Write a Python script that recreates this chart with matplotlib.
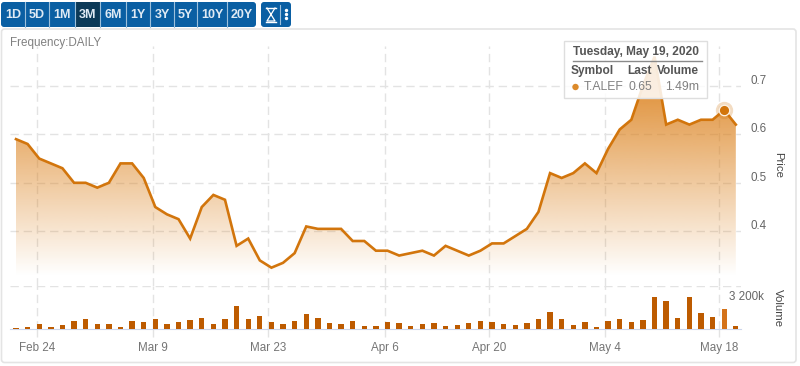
import numpy as np
import matplotlib
matplotlib.use("Agg")
import matplotlib.pyplot as plt
from matplotlib.patches import FancyBboxPatch, Rectangle, Circle
from matplotlib.transforms import ScaledTranslation

plt.rcParams["font.family"] = ["Liberation Sans", "DejaVu Sans"]

# Data
price = [.59, .58, .55, .54, .53, .50, .50, .49, .50, .54, .54, .51, .45, .435, .425, .385,
         .45, .475, .465, .37, .385, .34, .325, .335, .355, .41, .405, .405, .405, .38, .38,
         .36, .36, .35, .355, .36, .35, .37, .36, .35, .36, .375, .375, .39, .405, .44, .52,
         .51, .52, .54, .52, .57, .61, .63, .70, .76, .62, .63, .62, .63, .63, .65, .62]
volume = [100, 150, 390, 195, 315, 635, 755, 390, 390, 195, 635, 510, 755, 390, 560, 685,
          805, 390, 755, 1730, 755, 1000, 560, 390, 635, 1120, 805, 440, 390, 635, 270, 270,
          510, 440, 270, 390, 440, 270, 315, 440, 635, 560, 390, 315, 440, 755, 1295, 755,
          315, 510, 150, 635, 755, 510, 685, 2340, 2100, 805, 2340, 1170, 880, 1490, 270]
date_labels = ["Feb 24", "Mar 9", "Mar 23", "Apr 6", "Apr 20", "May 4", "May 18"]
date_pos = [1.78, 11.83, 21.7, 31.76, 40.77, 50.73, 60.55]
price_ticks = [0.4, 0.5, 0.6, 0.7]
buttons = ["1D", "5D", "1M", "3M", "6M", "1Y", "3Y", "5Y", "10Y", "20Y"]
button_edges = [1, 25, 49, 75, 100, 126, 150, 174, 197, 227, 256]

W, H = 800, 366
LINE = "#d2750c"
GRID = "#e3e3e3"
DASH = (0, (6, 3.5))
x = np.arange(len(price))


def box(left, top, right, bottom):
    return [left / W, 1 - bottom / H, (right - left) / W, (bottom - top) / H]


def px_price(y):
    return 0.6 + (134.3 - y) / 485


fig = plt.figure(figsize=(W / 100, H / 100), dpi=100, facecolor="white")

# Card and button bar
bg = fig.add_axes([0, 0, 1, 1], zorder=0)
bg.set_xlim(0, W)
bg.set_ylim(H, 0)
bg.axis("off")
bg.add_patch(FancyBboxPatch((1.5, 29), 794.5, 333.5, boxstyle="round,pad=0,rounding_size=3",
                            fc="white", ec="#e4e4e4", lw=1.2))
bg.add_patch(FancyBboxPatch((1, 2), 255, 25, boxstyle="round,pad=0,rounding_size=3",
                            fc="#0a5fa3", ec="none"))
for i, name in enumerate(buttons):
    l, r = button_edges[i], button_edges[i + 1]
    if name == "3M":
        bg.add_patch(Rectangle((l, 2), r - l, 25, fc="#0c3a58", ec="none"))
    if i > 0:
        bg.plot([l - 0.5, l - 0.5], [2, 27], color="#9cc0dc", lw=0.8)
    bg.text((l + r) / 2, 15, name, color="#dfeaf4", fontsize=9, fontweight="bold",
            ha="center", va="center")
bg.add_patch(FancyBboxPatch((261, 2), 30, 25, boxstyle="round,pad=0,rounding_size=3",
                             fc="#0a5fa3", ec="none"))
bg.plot([266, 276], [8, 8], color="white", lw=1)
bg.plot([266, 276], [22, 22], color="white", lw=1)
bg.plot([267, 275, 267, 275], [8, 21, 21, 8], color="white", lw=0.9)
bg.plot([279.5, 279.5], [5, 24], color="#9cc0dc", lw=0.8)
bg.scatter([285.5] * 3, [10, 14, 18], s=6, color="white", lw=0)
bg.text(10, 43, "Frequency:DAILY", color="#808080", fontsize=8.4, va="center")

# Price pane
PANE_TOP = 46
ax = fig.add_axes(box(10, PANE_TOP, 741, 285.7), zorder=1)
ax.patch.set_alpha(0)
xlim = ((10 - 16) / 11.61, (741 - 16) / 11.61)
ax.set_xlim(xlim)
ax.set_ylim(px_price(285.7), px_price(PANE_TOP))
for s in ax.spines.values():
    s.set_visible(False)
ax.set_yticks(price_ticks)
ax.set_yticklabels(["%.1f" % t for t in price_ticks])
ax.yaxis.tick_right()
ax.tick_params(axis="y", length=0, pad=6.5, labelsize=8.4, labelcolor="#666666")
for lab in ax.get_yticklabels():
    lab.set_transform(lab.get_transform() + ScaledTranslation(0, 6.4 / 100, fig.dpi_scale_trans))
ax.set_xticks(date_pos)
ax.tick_params(axis="x", length=0, labelbottom=False)
ax.grid(True, color=GRID, lw=1, ls=DASH)
ax.set_axisbelow(True)

# Area with a vertical gradient, clipped to the area under the line
rgba = np.ones((256, 1, 4))
rgba[:, :, 0] = 220 / 255
rgba[:, :, 1] = 130 / 255
rgba[:, :, 2] = 30 / 255
rgba[:, :, 3] = np.linspace(1, 0, 256).reshape(-1, 1)
top_p, bot_p = px_price(57), px_price(276)
area = ax.fill_between(x, price, bot_p, color="none", lw=0)
img = ax.imshow(rgba, extent=(x[0], x[-1], bot_p, top_p), aspect="auto", origin="upper", zorder=2)
img.set_clip_path(area.get_paths()[0], ax.transData)
ax.set_xlim(xlim)
ax.set_ylim(px_price(285.7), px_price(PANE_TOP))
ax.plot(x, price, color=LINE, lw=1.9, solid_joinstyle="miter", zorder=3, clip_on=False)
ax.plot(x[61], price[61], "o", ms=12.5, color=LINE, alpha=0.25, mew=0, zorder=4)
ax.plot(x[61], price[61], "o", ms=7.5, color=LINE, mec="#fdf3e6", mew=0.9, zorder=5)

# Volume pane
vol = fig.add_axes(box(10, 285.7, 741, 329.3), zorder=2)
vol.patch.set_alpha(0)
vol.set_xlim(xlim)
vol.set_ylim(0, 3200)
for name, s in vol.spines.items():
    s.set_visible(name == "bottom")
vol.spines["bottom"].set_color("#ccd6eb")
bar_colors = ["#bd5b00"] * len(volume)
bar_colors[61] = "#d4731a"
vol.bar(x, volume, width=0.46, color=bar_colors, lw=0, zorder=3)
vol.set_xticks(date_pos)
vol.set_xticklabels(date_labels)
vol.tick_params(axis="x", length=6, width=1, color=GRID, pad=3.5, labelsize=8.4, labelcolor="#757575")
vol.set_yticks([3200])
vol.set_yticklabels(["3 200k"])
vol.yaxis.tick_right()
vol.tick_params(axis="y", length=0, pad=16.5, labelsize=8.4, labelcolor="#666666")
for lab in vol.get_yticklabels():
    lab.set_transform(lab.get_transform() + ScaledTranslation(0, -10.3 / 100, fig.dpi_scale_trans))
    lab.set_ha("right")
vol.grid(True, color=GRID, lw=1, ls=DASH)
vol.set_axisbelow(True)

# Axis titles and tooltip on top
top = fig.add_axes([0, 0, 1, 1], zorder=5)
top.set_xlim(0, W)
top.set_ylim(H, 0)
top.axis("off")
top.text(778, 165, "Price", rotation=270, color="#444444", fontsize=8.2, ha="center", va="center")
top.text(778, 308, "Volume", rotation=270, color="#444444", fontsize=8.2, ha="center", va="center")
top.add_patch(Rectangle((563.5, 40.5), 143, 57, fc=(1, 1, 1, 0.85), ec="#dedede", lw=1))
top.text(699, 52.5, "Tuesday, May 19, 2020", color="#555555", fontsize=8.6, fontweight="bold",
         ha="right", va="center")
top.plot([573, 702], [60.5, 60.5], color="#8a8a8a", lw=1)
top.text(571, 71, "Symbol", color="#555555", fontsize=8.6, fontweight="bold", va="center")
top.text(652, 71, "Last", color="#555555", fontsize=8.6, fontweight="bold", ha="right", va="center")
top.text(699, 71, "Volume", color="#555555", fontsize=8.6, fontweight="bold", ha="right", va="center")
top.add_patch(Circle((575.5, 87), 3.2, fc="#dc8a2a", ec="none"))
top.text(584, 87, "T.ALEF", color="#808080", fontsize=8.8, va="center")
top.text(652, 87, "0.65", color="#808080", fontsize=8.8, ha="right", va="center")
top.text(699, 87, "1.49m", color="#808080", fontsize=8.8, ha="right", va="center")

fig.savefig("out.png", dpi=100)
